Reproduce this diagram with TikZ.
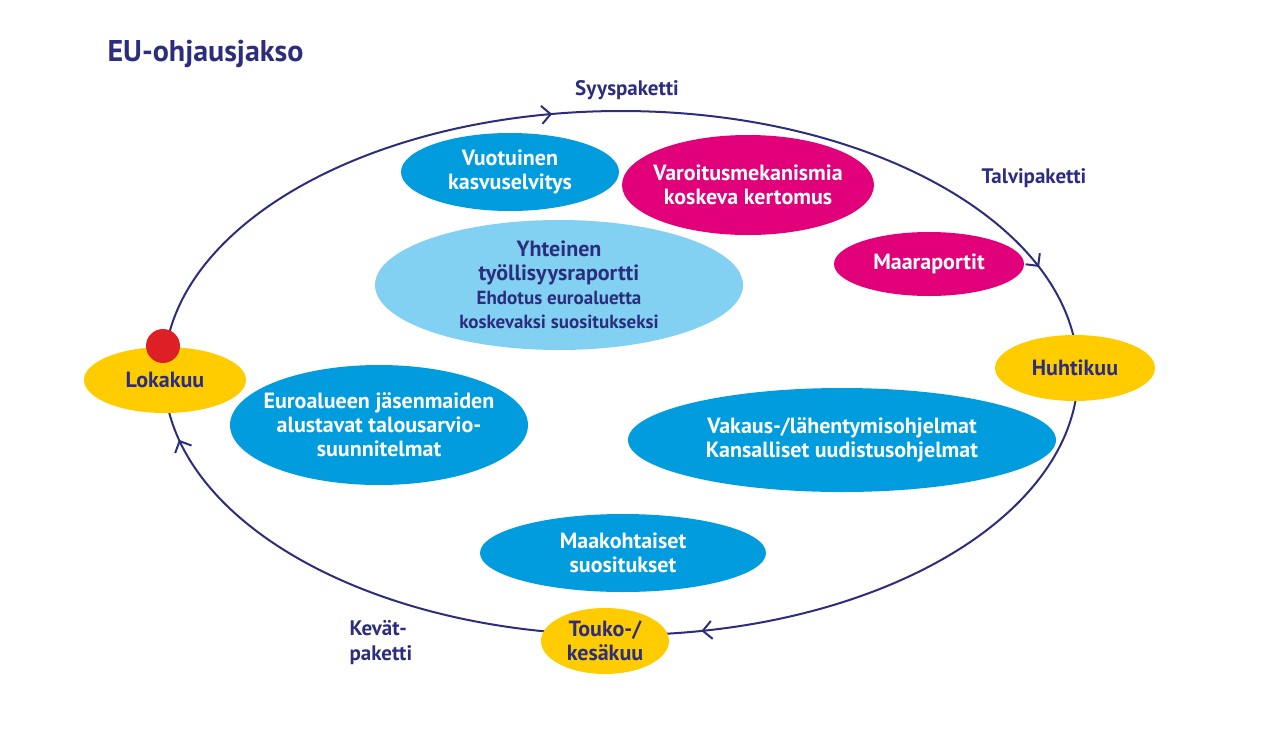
\documentclass[tikz,border=0pt]{standalone}
\usepackage{fontspec}
\setmainfont{PT Sans}
\usetikzlibrary{shapes.geometric,arrows.meta,decorations.markings}
\definecolor{navy}{RGB}{45,45,125}
\definecolor{cyanblue}{RGB}{0,156,222}
\definecolor{magentapink}{RGB}{226,0,122}
\definecolor{lightblue}{RGB}{130,208,242}
\definecolor{sunyellow}{RGB}{255,204,0}
\definecolor{dotred}{RGB}{222,32,38}
\tikzset{
  blob/.style={ellipse,inner sep=0pt,align=center,font=\bfseries\fontsize{22}{24}\selectfont,text=white},
  month/.style={blob,fill=sunyellow,text=navy},
  phase/.style={font=\bfseries\fontsize{21}{25}\selectfont,text=navy,align=left},
  cycletip/.tip={Straight Barb[length=9pt,width=18pt,line width=2pt]}
}
\begin{document}
\begin{tikzpicture}[x=1pt,y=-1pt]
  \useasboundingbox (0,0) rectangle (1286,737);

  % Cycle
  \draw [line width=2pt,navy,decoration={markings,
      mark=at position 0.215 with {\arrow{cycletip}},
      mark=at position 0.47 with {\arrow{cycletip}},
      mark=at position 0.72 with {\arrow{cycletip}},
      mark=at position 0.95 with {\arrow{cycletip}}},postaction={decorate}]
    (621,373) ellipse [x radius=457, y radius=262];

  % Title and phases
  \node (title) [anchor=west,font=\bfseries\fontsize{30}{32}\selectfont,text=navy] at (104,54) {EU-ohjausjakso};
  \node (syys) [phase] at (627,90) {Syyspaketti};
  \node (talvi) [phase] at (1034,178) {Talvipaketti};
  \node (kevat) [phase,anchor=west] at (346,643) {Kevät-\\paketti};

  % Months
  \node (lokakuu) [month,minimum width=162,minimum height=66] at (165,380) {Lokakuu};
  \fill [dotred] (163,346) circle (17);
  \node (huhtikuu) [month,minimum width=160,minimum height=66] at (1075,368) {Huhtikuu};
  \node (touko) [month,minimum width=128,minimum height=66] at (605,641) {Touko-/\\kesäkuu};

  % Documents
  \node (kasvu) [blob,fill=cyanblue,minimum width=218,minimum height=78] at (510,172) {Vuotuinen\\kasvuselvitys};
  \node (varoitus) [blob,fill=magentapink,inner xsep=-12pt,minimum width=252,minimum height=100] at (748,185) {Varoitusmekanismia\\koskeva kertomus};
  \node (maa) [blob,fill=magentapink,minimum width=190,minimum height=64] at (929,264) {Maaraportit};
  \node (yhteinen) [blob,fill=lightblue,text=navy,minimum width=368,minimum height=130] at (559,285)
    {Yhteinen\\työllisyysraportti\\{\fontsize{19}{22}\selectfont Ehdotus euroaluetta}\\{\fontsize{19}{22}\selectfont koskevaksi suositukseksi}};
  \node (euro) [blob,fill=cyanblue,inner xsep=-14pt,minimum width=298,minimum height=120] at (379,425) {Euroalueen jäsenmaiden\\alustavat talousarvio-\\suunnitelmat};
  \node (vakaus) [blob,fill=cyanblue,minimum width=428,minimum height=104] at (842,440) {Vakaus-/lähentymisohjelmat\\Kansalliset uudistusohjelmat};
  \node (maakoht) [blob,fill=cyanblue,minimum width=286,minimum height=78] at (623,553) {Maakohtaiset\\suositukset};
\end{tikzpicture}
\end{document}
